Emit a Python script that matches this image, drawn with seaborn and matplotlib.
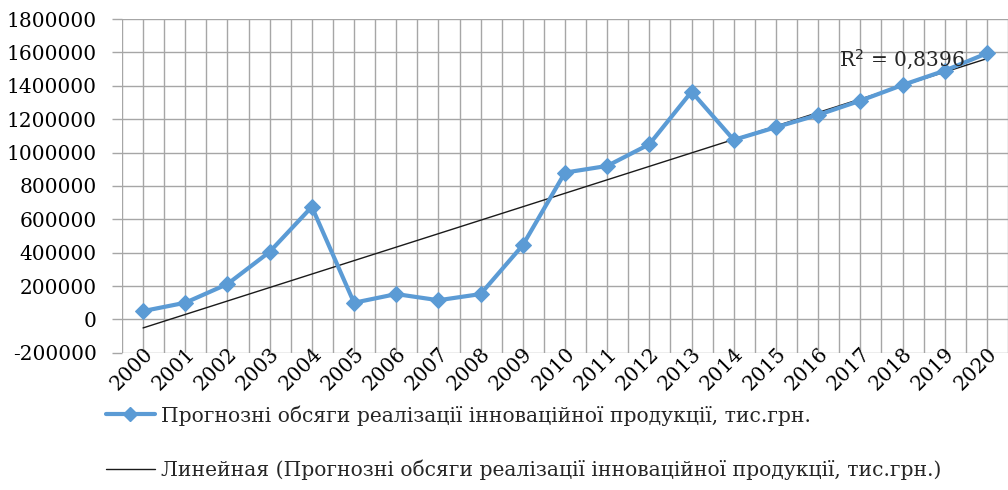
import numpy as np
import pandas as pd
import seaborn as sns
import matplotlib
matplotlib.use("Agg")
import matplotlib.pyplot as plt
from matplotlib.lines import Line2D

years = [str(y) for y in range(2000, 2021)]
values = [50000, 100000, 212000, 405000, 675000, 100000, 152000, 115000, 152000, 445000,
          880000, 920000, 1050000, 1365000, 1076000, 1152000, 1226000, 1311000, 1405000,
          1491000, 1595000]
y_ticks = list(range(-200000, 1800001, 200000))
series_label = "Прогнозні обсяги реалізації інноваційної продукції, тис.грн."
trend_label = "Линейная (Прогнозні обсяги реалізації інноваційної продукції, тис.грн.)"
r2_text = "R$^2$ = 0,8396"

sns.set_theme(style="white")
plt.rcParams['font.family'] = ['DejaVu Serif', 'DejaVu Sans']

fig = plt.figure(figsize=(10.08, 4.90), dpi=100)
ax = fig.add_axes([0.121, 0.280, 0.879, 0.681])

idx = np.arange(len(years))
df = pd.DataFrame({"x": idx, "y": values})
coef = np.polyfit(idx, values, 1)
trend = np.polyval(coef, idx)

grid_c = "#A6A6A6"
ax.set_xlim(-0.5, len(years) - 0.5)
ax.set_ylim(-200000, 1800000)
ax.set_yticks(y_ticks)
ax.set_yticklabels([str(v) for v in y_ticks], fontsize=14.5)
ax.set_xticks(idx)
ax.set_xticks(np.arange(-0.5, len(years), 1.0), minor=True)
ax.set_xticklabels(years, rotation=45, ha='right', rotation_mode='anchor', fontsize=14.5)
ax.grid(True, which='both', color=grid_c, linewidth=1.0)
ax.set_axisbelow(True)
for s in ax.spines.values():
    s.set_visible(False)
ax.tick_params(axis='y', which='major', length=7, color=grid_c, width=1, pad=11, left=True, labelcolor='#000000')
ax.tick_params(axis='x', which='major', length=0, pad=-6, labelcolor='#000000')
ax.tick_params(axis='x', which='minor', length=0)

sns.lineplot(x=idx, y=trend, ax=ax, color='#1a1a1a', linewidth=1.0, legend=False)
sns.lineplot(data=df, x="x", y="y", ax=ax, color='#5B9BD5', linewidth=3.0,
             marker='D', markersize=8, markeredgecolor='#5B9BD5', legend=False)
ax.set_xlabel("")
ax.set_ylabel("")

ax.text(16.5, 1555000, r2_text, fontsize=14.5, va='center', ha='left')

handles = [Line2D([], [], color='#5B9BD5', linewidth=3.0, marker='D', markersize=7),
           Line2D([], [], color='#1a1a1a', linewidth=1.0)]
fig.legend(handles, [series_label, trend_label], loc='upper left',
           bbox_to_anchor=(0.097, 0.19), frameon=False, fontsize=14.6,
           handlelength=2.4, handletextpad=0.3, labelspacing=1.7, borderaxespad=0)

fig.savefig("out.png", dpi=100)
